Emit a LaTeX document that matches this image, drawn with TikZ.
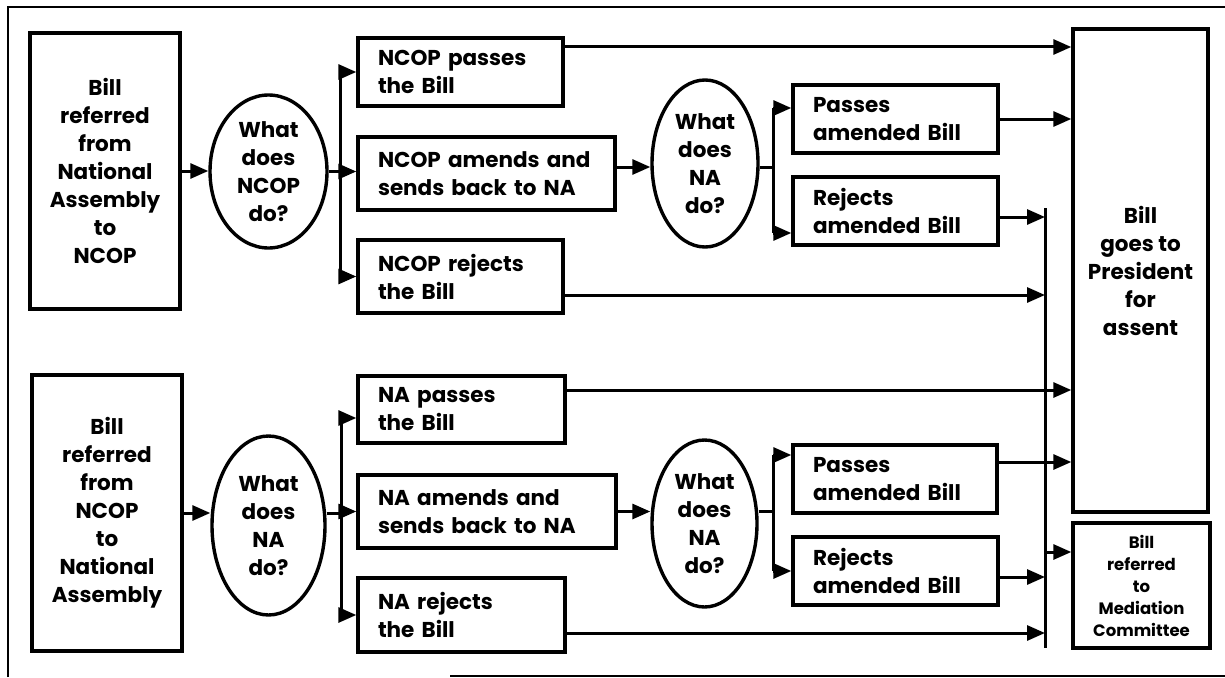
\documentclass[tikz,border=0pt]{standalone}
\usepackage{fontspec}
\setmainfont{Poppins}
\usetikzlibrary{shapes.geometric,arrows.meta}
\begin{document}
\begin{tikzpicture}[x=1pt,y=-1pt,
  txt/.style={font=\bfseries\fontsize{21.5}{28}\selectfont},
  box/.style={draw, line width=3.4pt, inner sep=0pt, align=center, txt},
  lbox/.style={box, align=left, inner xsep=20pt, inner ysep=0pt},
  ell/.style={draw, ellipse, line width=3.4pt, inner sep=0pt, align=center, txt},
  small/.style={font=\bfseries\fontsize{16.5}{22}\selectfont},
  conn/.style={line width=3pt},
  arr/.style={line width=3pt, -{Triangle[length=18pt,width=15pt]}},
  frame/.style={line width=2.6pt}]
\useasboundingbox (0,0) rectangle (1225,677);
% frame
\draw[frame] (8,677) -- (8,7) -- (1225,7);
\draw[frame] (450,676) -- (1225,676);

% ---------- top half ----------
\node[box, minimum width=150pt, minimum height=276pt] (L1) at (105,171)
  {Bill\\referred\\from\\National\\Assembly\\to\\NCOP};
\node[ell, minimum width=117pt, minimum height=153pt] (E1) at (268.5,171.5)
  {What\\does\\NCOP\\do?};
\node[lbox, text width=165pt, minimum height=68pt] (P1) at (460.5,72)
  {NCOP passes\\the Bill};
\node[lbox, text width=217pt, minimum height=73pt] (A1) at (486.5,173.5)
  {NCOP amends and\\sends back to NA};
\node[lbox, text width=165pt, minimum height=73pt] (R1) at (460.5,276.5)
  {NCOP rejects\\the Bill};
\node[ell, minimum width=106pt, minimum height=167pt] (E2) at (705,163.5)
  {What\\does\\NA\\do?};
\node[lbox, text width=165pt, minimum height=68pt] (PA1) at (895.5,119)
  {Passes\\amended Bill};
\node[lbox, text width=165pt, minimum height=68pt] (RA1) at (895.5,211)
  {Rejects\\amended Bill};
\node[box, minimum width=135pt, minimum height=483pt] (Pres) at (1140.5,270.5)
  {Bill\\goes to\\President\\for\\assent};

% ---------- bottom half ----------
\node[box, minimum width=150pt, minimum height=276pt] (L2) at (107,513)
  {Bill\\referred\\from\\NCOP\\to\\National\\Assembly};
\node[ell, minimum width=113pt, minimum height=179pt] (E3) at (268.5,525.5)
  {What\\does\\NA\\do?};
\node[lbox, text width=167pt, minimum height=67pt] (P2) at (461.5,409.5)
  {NA passes\\the Bill};
\node[lbox, text width=218pt, minimum height=73pt] (A2) at (487,511.5)
  {NA amends and\\sends back to NA};
\node[lbox, text width=167pt, minimum height=74pt] (R2) at (461.5,615)
  {NA rejects\\the Bill};
\node[ell, minimum width=105pt, minimum height=167pt] (E4) at (704.5,523.5)
  {What\\does\\NA\\do?};
\node[lbox, text width=164pt, minimum height=68pt] (PA2) at (895,479)
  {Passes\\amended Bill};
\node[lbox, text width=165pt, minimum height=68pt] (RA2) at (895.5,571)
  {Rejects\\amended Bill};
\node[box, small, minimum width=137pt, minimum height=125pt] (Med) at (1141.5,585.5)
  {Bill\\referred\\to\\Mediation\\Committee};

% ---------- helper coordinates ----------
\coordinate (bus1) at (340,0);
\coordinate (bus2) at (773,0);
\coordinate (bus3) at (341,0);
\coordinate (bus4) at (773,0);
\coordinate (vtop) at (1045,208);
\coordinate (vbot) at (1045,648);
\coordinate (medin) at (1045,552);
\coordinate (p1o) at ([yshift=25pt]P1.east);
\coordinate (r1o) at ([yshift=-18.5pt]R1.east);
\coordinate (ra1o) at ([yshift=-6pt]RA1.east);
\coordinate (p2o) at ([yshift=19.5pt]P2.east);
\coordinate (r2o) at ([yshift=-18pt]R2.east);
\coordinate (pa2o) at ([yshift=17pt]PA2.east);
\coordinate (ra2o) at ([yshift=-6pt]RA2.east);
\coordinate (a1o) at ([yshift=6.5pt]A1.east);
\coordinate (pa1i) at ([yshift=11pt]PA1.west);
\coordinate (ra1i) at ([yshift=-22pt]RA1.west);
\coordinate (p2i) at ([yshift=-8.5pt]P2.west);
\coordinate (pa2i) at ([yshift=24pt]PA2.west);

% ---------- top connectors ----------
\draw[arr] (L1.east) -- (L1.east -| E1.west);
\draw[conn] (bus1 |- P1.west) -- (bus1 |- R1.west);
\draw[arr] (E1.east) -- (E1.east -| A1.west);
\draw[arr] (bus1 |- P1.west) -- (P1.west);
\draw[arr] (bus1 |- R1.west) -- (R1.west);
\draw[arr] (a1o) -- (a1o -| E2.west);
\draw[conn] (E2.east |- a1o) -- (bus2 |- a1o);
\draw[conn] (bus2 |- pa1i) -- (bus2 |- ra1i);
\draw[arr] (bus2 |- pa1i) -- (pa1i);
\draw[arr] (bus2 |- ra1i) -- (ra1i);
\draw[arr] (p1o) -- (p1o -| Pres.west);
\draw[arr] (PA1.east) -- (PA1.east -| Pres.west);
\draw[arr] (ra1o) -- (ra1o -| vtop);
\draw[arr] (r1o) -- (r1o -| vtop);
\draw[conn] (vtop) -- (vbot);

% ---------- bottom connectors ----------
\draw[arr] (L2.east) -- (L2.east -| E3.west);
\draw[conn] (L2.east -| E3.east) -- (bus3 |- L2.east);
\draw[conn] (bus3 |- p2i) -- (bus3 |- R2.west);
\draw[arr] (bus3 |- p2i) -- (p2i);
\draw[arr] (bus3 |- A2.west) -- (A2.west);
\draw[arr] (bus3 |- R2.west) -- (R2.west);
\draw[arr] (A2.east) -- (A2.east -| E4.west);
\draw[conn] (E4.east |- A2.east) -- (bus4 |- A2.east);
\draw[conn] (bus4 |- pa2i) -- (bus4 |- RA2.west);
\draw[arr] (bus4 |- pa2i) -- (pa2i);
\draw[arr] (bus4 |- RA2.west) -- (RA2.west);
\draw[arr] (p2o) -- (p2o -| Pres.west);
\draw[arr] (pa2o) -- (pa2o -| Pres.west);
\draw[arr] (ra2o) -- (ra2o -| vtop);
\draw[arr] (r2o) -- (r2o -| vtop);
\draw[arr] (medin) -- (medin -| Med.west);
\end{tikzpicture}
\end{document}
